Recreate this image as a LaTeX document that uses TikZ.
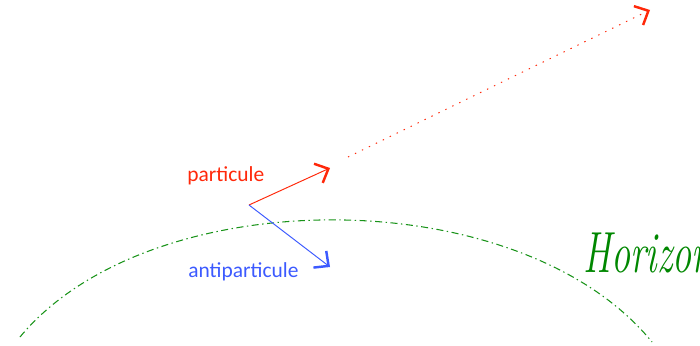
\documentclass[tikz,border=0pt]{standalone}
\usepackage{fontspec}
\newfontfamily\labelfont{Carlito}
\usepackage{xcolor}
\usetikzlibrary{arrows.meta,positioning}
\definecolor{partred}{RGB}{255,40,10}
\definecolor{antiblue}{RGB}{60,90,255}
\definecolor{horgreen}{RGB}{0,135,0}

\begin{document}
\begin{tikzpicture}[
    x=0.02cm, y=-0.02cm,
    label/.style={
        anchor=base west,
        inner sep=0pt,
        font=\labelfont\fontsize{12.2}{14}\selectfont
    },
    arrow/.style={-{Straight Barb[length=2.2mm,width=4.2mm,line width=1.4pt]}, line width=0.55pt}
]
\useasboundingbox (0,0) rectangle (700,345);

% Emission point
\coordinate (emit) at (249,205);
\coordinate (partend) at (330,168);
\coordinate (antiend) at (330,267);
\coordinate (farstart) at (348,157);
\coordinate (farend) at (650,10);

% Horizon
\coordinate (horleft) at (20,337);
\coordinate (horright) at (652,342);
\draw[horgreen!90!white, line width=0.6pt, dash pattern=on 4pt off 2pt on 0.8pt off 2pt]
    (horleft) .. controls (150,180) and (520,180) .. (horright);
\node[anchor=base west, inner sep=0pt, text=horgreen, xscale=0.66,
    font=\fontsize{33}{36}\selectfont\itshape] (horizon) at (583,272) {Horizon};

% Particle pair
\draw[arrow, partred] (emit) -- (partend);
\draw[arrow, antiblue] (emit) -- (antiend);
\draw[arrow, partred, dash pattern=on 0.8pt off 3.6pt] (farstart) -- (farend);

% Labels
\node[label, text=partred] (part) at (187,181) {particule};
\node[label, text=antiblue] (anti) at (188,277) {antiparticule};

\end{tikzpicture}
\end{document}
